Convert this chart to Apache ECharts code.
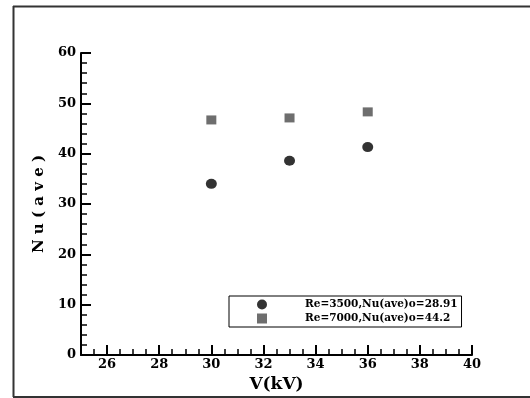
<!DOCTYPE html>
<html>
<head>
<meta charset="utf-8">
<script src="https://cdn.jsdelivr.net/npm/echarts@6/dist/echarts.min.js"></script>
<style>
  html, body { margin: 0; padding: 0; background: #fff; }
  #chart { width: 530px; height: 398px; }
</style>
</head>
<body>
<div id="chart"></div>
<script>
// values
const voltage = [30, 33, 36];
const nuRe3500 = [34.0, 38.6, 41.3];
const nuRe7000 = [46.7, 47.1, 48.3];
const seriesNames = ["Re=3500,Nu(ave)o=28.91", "Re=7000,Nu(ave)o=44.2"];
const xTicks = [26, 28, 30, 32, 34, 36, 38, 40];
const xMinorTicks = [25.5, 26.5, 27, 27.5, 28.5, 29, 29.5, 30.5, 31, 31.5, 32.5, 33, 33.5,
  34.5, 35, 35.5, 36.5, 37, 37.5, 38.5, 39, 39.5];

const FONT = "DejaVu Serif";

const chart = echarts.init(document.getElementById("chart"), null, { renderer: "canvas" });

const pairs = (ys) => voltage.map((v, i) => [v, ys[i]]);

const frameLine = (x1, y1, x2, y2) => ({
  type: "line",
  shape: { x1, y1, x2, y2 },
  style: { stroke: "#333", lineWidth: 2 },
  z: 0,
});

chart.setOption({
  animation: false,
  backgroundColor: "#fff",
  grid: { left: 81, right: 58, top: 53, bottom: 43 },
  // open frame: top, left and bottom edges only
  graphic: [
    frameLine(13, 6.5, 530, 6.5),
    frameLine(13.5, 6, 13.5, 397),
    frameLine(13, 397, 530, 397),
  ],
  legend: {
    orient: "vertical",
    left: 229,
    top: 296,
    padding: [3, 4, 3, 28],
    itemGap: 3,
    itemWidth: 10,
    itemHeight: 10,
    borderColor: "#000",
    borderWidth: 1,
    backgroundColor: "#fff",
    textStyle: {
      fontFamily: FONT,
      fontWeight: "bold",
      fontSize: 10.5,
      color: "#000",
      padding: [0, 0, 0, 33],
    },
    data: [
      { name: seriesNames[0], icon: "circle" },
      { name: seriesNames[1], icon: "rect" },
    ],
  },
  xAxis: [
    {
      type: "value",
      min: 25,
      max: 40,
      name: "V(kV)",
      nameLocation: "middle",
      nameGap: 16,
      nameTextStyle: { fontFamily: FONT, fontWeight: "bold", fontSize: 17, color: "#000" },
      axisLine: { lineStyle: { color: "#000", width: 2 } },
      axisTick: { inside: true, length: 10, customValues: xTicks, lineStyle: { color: "#000", width: 2 } },
      axisLabel: {
        customValues: xTicks,
        margin: 3,
        fontFamily: FONT,
        fontWeight: "bold",
        fontSize: 13,
        color: "#000",
      },
      splitLine: { show: false },
    },
    {
      type: "value",
      min: 25,
      max: 40,
      position: "bottom",
      axisLine: { show: false },
      axisTick: { inside: true, length: 6, customValues: xMinorTicks, lineStyle: { color: "#000", width: 1.5 } },
      axisLabel: { show: false },
      splitLine: { show: false },
    },
  ],
  yAxis: {
    type: "value",
    min: 0,
    max: 60,
    interval: 10,
    name: "N u ( a v e )",
    nameLocation: "middle",
    nameGap: 33,
    nameTextStyle: { fontFamily: FONT, fontWeight: "bold", fontSize: 15, color: "#000" },
    axisLine: { show: true, lineStyle: { color: "#000", width: 2 } },
    axisTick: { show: true, inside: true, length: 10, lineStyle: { color: "#000", width: 2 } },
    minorTick: { show: true, splitNumber: 5, length: 6, lineStyle: { color: "#000", width: 1.5 } },
    axisLabel: { margin: 5, fontFamily: FONT, fontWeight: "bold", fontSize: 13, color: "#000" },
    splitLine: { show: false },
  },
  series: [
    {
      name: seriesNames[0],
      type: "scatter",
      symbol: "circle",
      symbolSize: [11, 10],
      itemStyle: { color: "#000" },
      data: pairs(nuRe3500),
    },
    {
      name: seriesNames[1],
      type: "scatter",
      symbol: "rect",
      symbolSize: [10, 9],
      itemStyle: { color: "#4a4a4a" },
      data: pairs(nuRe7000),
    },
  ],
});
</script>
</body>
</html>
